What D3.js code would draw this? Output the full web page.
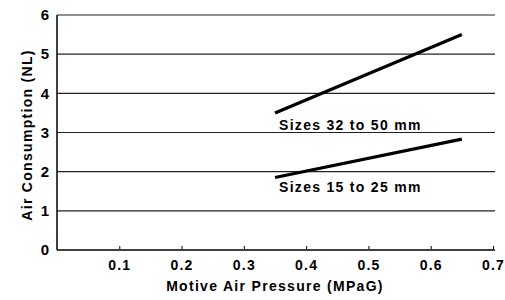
<!DOCTYPE html>
<html>
<head>
<meta charset="utf-8">
<script src="https://cdn.jsdelivr.net/npm/d3@7"></script>
<style>
  body { margin: 0; background: #fff; }
  text { font-family: "Liberation Sans", Arial, sans-serif; font-weight: bold; fill: #000; }
</style>
</head>
<body>
<div id="chart"></div>
<script>
// data
const pressures = [0.35, 0.65];
const largeSizes = [3.5, 5.5];
const smallSizes = [1.85, 2.83];
const seriesLabels = ["Sizes 32 to 50 mm", "Sizes 15 to 25 mm"];
const xTicks = [0.1, 0.2, 0.3, 0.4, 0.5, 0.6, 0.7];
const yTicks = [0, 1, 2, 3, 4, 5, 6];

const W = 505, H = 300;
const svg = d3.select("#chart").append("svg")
  .attr("width", W).attr("height", H);

const x = d3.scaleLinear().domain([0, 0.7]).range([57, 493]);
const y = d3.scaleLinear().domain([0, 6]).range([250, 15]);

// grid lines
svg.append("g")
  .selectAll("line")
  .data(yTicks.filter(d => d > 0))
  .join("line")
  .attr("x1", x(0)).attr("x2", 495)
  .attr("y1", d => y(d)).attr("y2", d => y(d))
  .attr("stroke", "#222").attr("stroke-width", 1.2);

// x axis
const xAxis = svg.append("g")
  .attr("transform", `translate(0,${y(0)})`)
  .call(d3.axisBottom(x).tickValues(xTicks).tickSize(0).tickPadding(10).tickFormat(d3.format(".1f")));
xAxis.select(".domain").remove();
xAxis.append("line").attr("x1", x(0)).attr("x2", 495).attr("stroke", "#000").attr("stroke-width", 1.5);
xAxis.selectAll(".tick").append("line").attr("y1", -4).attr("y2", -1).attr("stroke", "#000");
xAxis.selectAll(".tick text")
  .style("font-size", "14px").style("letter-spacing", "1.2px").attr("fill", "#000");

// y axis
const yAxis = svg.append("g")
  .attr("transform", `translate(${x(0)},0)`)
  .call(d3.axisLeft(y).tickValues(yTicks).tickSize(0).tickPadding(8).tickFormat(d3.format("d")));
yAxis.select(".domain").remove();
yAxis.append("line").attr("y1", y(0)).attr("y2", y(6)).attr("stroke", "#000").attr("stroke-width", 1.5);
yAxis.selectAll(".tick text")
  .style("font-size", "15px").attr("fill", "#000");

// axis titles
svg.append("text")
  .attr("x", 275).attr("y", 291)
  .attr("text-anchor", "middle")
  .style("font-size", "14px").style("letter-spacing", "1.3px")
  .text("Motive Air Pressure (MPaG)");

svg.append("text")
  .attr("transform", "translate(32,135) rotate(-90)")
  .attr("text-anchor", "middle")
  .style("font-size", "14px").style("letter-spacing", "1.3px")
  .text("Air Consumption (NL)");

// series lines
const line = d3.line().x(d => x(d[0])).y(d => y(d[1]));
const series = [largeSizes, smallSizes];
svg.append("g")
  .selectAll("path")
  .data(series.map(vals => pressures.map((p, i) => [p, vals[i]])))
  .join("path")
  .attr("d", line)
  .attr("fill", "none")
  .attr("stroke", "#000")
  .attr("stroke-width", 3.2);

// series labels, just below the start of each line
svg.append("g")
  .selectAll("text")
  .data(series)
  .join("text")
  .attr("x", (d, i) => x(pressures[0]) + 4)
  .attr("y", (d, i) => y(d[0]) + (i ? 14 : 17))
  .style("font-size", "14px").style("letter-spacing", "1.3px")
  .text((d, i) => seriesLabels[i]);
</script>
</body>
</html>
